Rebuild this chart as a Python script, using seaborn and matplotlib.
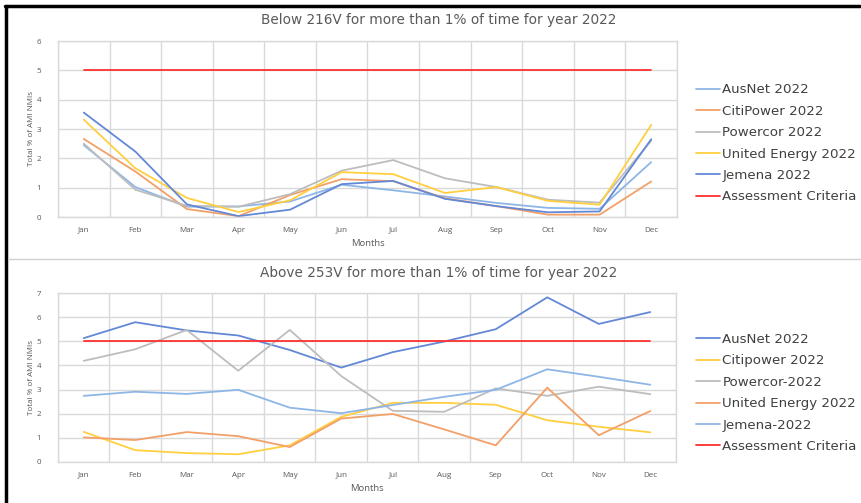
import numpy as np
import pandas as pd
import seaborn as sns
import matplotlib.pyplot as plt
from matplotlib.lines import Line2D

months = ['Jan', 'Feb', 'Mar', 'Apr', 'May', 'Jun', 'Jul', 'Aug', 'Sep', 'Oct', 'Nov', 'Dec']

# Below 216V
below_ausnet = [2.45, 1.02, 0.35, 0.36, 0.53, 1.10, 0.91, 0.70, 0.48, 0.31, 0.28, 1.87]
below_citipower = [2.66, 1.55, 0.27, 0.03, 0.75, 1.29, 1.22, 0.64, 0.37, 0.08, 0.08, 1.21]
below_powercor = [2.50, 0.93, 0.38, 0.35, 0.78, 1.58, 1.94, 1.32, 1.02, 0.59, 0.49, 2.60]
below_united = [3.32, 1.66, 0.65, 0.17, 0.57, 1.53, 1.46, 0.82, 1.02, 0.55, 0.42, 3.14]
below_jemena = [3.56, 2.23, 0.43, 0.03, 0.25, 1.12, 1.23, 0.62, 0.37, 0.16, 0.19, 2.65]

# Above 253V
above_ausnet = [5.13, 5.79, 5.45, 5.24, 4.64, 3.91, 4.55, 4.99, 5.50, 6.82, 5.72, 6.21]
above_citipower = [1.25, 0.49, 0.37, 0.32, 0.69, 1.87, 2.45, 2.45, 2.37, 1.73, 1.46, 1.23]
above_powercor = [4.19, 4.67, 5.47, 3.78, 5.47, 3.56, 2.12, 2.08, 3.05, 2.74, 3.12, 2.81]
above_united = [1.02, 0.91, 1.24, 1.07, 0.62, 1.80, 1.99, 1.35, 0.69, 3.08, 1.11, 2.11]
above_jemena = [2.74, 2.91, 2.82, 2.99, 2.25, 2.02, 2.36, 2.70, 2.99, 3.84, 3.53, 3.20]

criteria = [5] * 12

c_dblue = '#6388d6'
c_orange = '#f2a068'
c_grey = '#bdbdbd'
c_gold = '#ffcf3f'
c_lblue = '#8db6e6'
c_red = '#ff3030'
txt = '#595959'

sns.set_style('white')
plt.rcParams['font.family'] = ['Open Sans', 'DejaVu Sans']

fig = plt.figure(figsize=(8.62, 5.03), dpi=100)

W, H = 862, 503


def px_axes(left, top, right, bottom):
    return fig.add_axes([left / W, 1 - bottom / H, (right - left) / W, (bottom - top) / H])


def draw_panel(ax, series, ymax, title, title_y, legend_y):
    x = np.arange(len(months))
    for label, vals, color in series:
        df = pd.DataFrame({'x': x, 'y': vals})
        sns.lineplot(data=df, x='x', y='y', ax=ax, color=color, linewidth=1.3, label=label)
    ax.set_xlim(-0.5, 11.5)
    ax.set_ylim(0, ymax)
    ax.set_xticks(x)
    ax.set_xticklabels(months)
    ax.set_xticks(np.arange(-0.5, 12, 1), minor=True)
    ax.set_yticks(np.arange(0, ymax + 1, 1))
    ax.grid(which='minor', axis='x', color='#d9d9d9', linewidth=1)
    ax.grid(which='major', axis='y', color='#d9d9d9', linewidth=1)
    ax.tick_params(which='both', length=0)
    ax.tick_params(axis='x', labelsize=5.8, labelcolor=txt, pad=7)
    ax.tick_params(axis='y', labelsize=5.8, labelcolor=txt, pad=12)
    for s in ax.spines.values():
        s.set_color('#d9d9d9')
        s.set_linewidth(1)
    ax.set_xlabel('Months', fontsize=6.8, color=txt, labelpad=4)
    ax.set_ylabel('Total % of AMI NMIs', fontsize=5.8, color=txt, labelpad=1)
    fig.text(439 / W, 1 - title_y / H, title, ha='center', va='center', fontsize=9.8,
             color=txt, family='DejaVu Sans')
    ax.legend(loc='center left', bbox_to_anchor=(689 / W, 1 - legend_y / H),
              bbox_transform=fig.transFigure, frameon=False,
              prop={'family': 'DejaVu Sans', 'size': 9.6},
              handlelength=1.8, handletextpad=0.2, labelspacing=0.63, borderpad=0,
              labelcolor='#404040')


ax1 = px_axes(58, 41, 677, 217)
draw_panel(ax1, [
    ('AusNet 2022', below_ausnet, c_lblue),
    ('CitiPower 2022', below_citipower, c_orange),
    ('Powercor 2022', below_powercor, c_grey),
    ('United Energy 2022', below_united, c_gold),
    ('Jemena 2022', below_jemena, c_dblue),
    ('Assessment Criteria', criteria, c_red),
], 6, 'Below 216V for more than 1% of time for year 2022', 20, 143.5)

ax2 = px_axes(58, 293, 676, 462)
draw_panel(ax2, [
    ('AusNet 2022', above_ausnet, c_dblue),
    ('Citipower 2022', above_citipower, c_gold),
    ('Powercor-2022', above_powercor, c_grey),
    ('United Energy 2022', above_united, c_orange),
    ('Jemena-2022', above_jemena, c_lblue),
    ('Assessment Criteria', criteria, c_red),
], 7, 'Above 253V for more than 1% of time for year 2022', 273, 393)

# frame lines
fig.add_artist(Line2D([5 / W, 860 / W], [1 - 6 / H, 1 - 6 / H], color='black', linewidth=2.5))
fig.add_artist(Line2D([6 / W, 6 / W], [1 - 6 / H, 0], color='black', linewidth=2.5))
fig.add_artist(Line2D([8 / W, 1], [1 - 259 / H, 1 - 259 / H], color='#d0d0d0', linewidth=1))

plt.savefig('out.png', dpi=100)
